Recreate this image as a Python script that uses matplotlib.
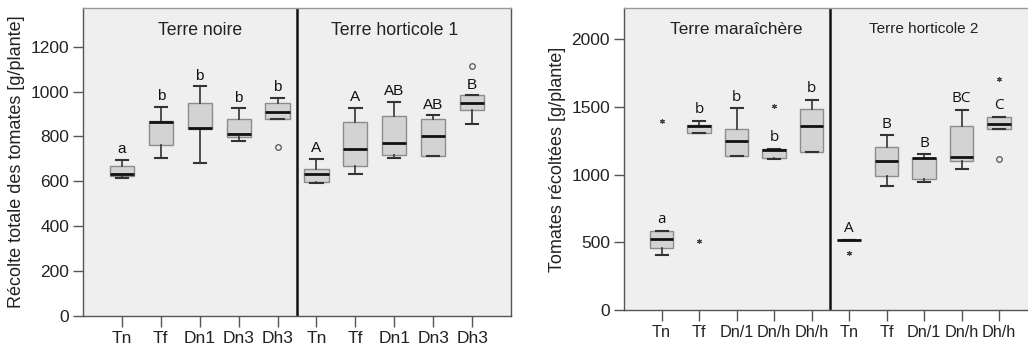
import matplotlib
matplotlib.use("Agg")
import matplotlib.pyplot as plt

plt.rcParams['font.family'] = ['Liberation Sans', 'DejaVu Sans']

# ---------------- data ----------------
left_ticks = ["Tn", "Tf", "Dn1", "Dn3", "Dh3", "Tn", "Tf", "Dn1", "Dn3", "Dh3"]
# whislo, q1, med, q3, whishi
left_whislo = [613, 703, 680, 778, 876, 593, 634, 703, 714, 856]
left_q1     = [625, 763, 831, 796, 876, 598, 669, 715, 714, 917]
left_med    = [634, 862, 837, 809, 910, 634, 746, 770, 804, 950]
left_q3     = [669, 870, 947, 878, 951, 654, 862, 892, 876, 984]
left_whishi = [697, 932, 1023, 926, 972, 699, 927, 953, 894, 984]
left_letters = ["a", "b", "b", "b", "b", "A", "A", "AB", "AB", "B"]
left_circles = {5: [752], 10: [1112]}
left_stars = {}
left_groups = ["Terre noire", "Terre horticole 1"]

right_ticks = ["Tn", "Tf", "Dn/1", "Dn/h", "Dh/h", "Tn", "Tf", "Dn/1", "Dn/h", "Dh/h"]
right_whislo = [404, 1304, 1139, 1118, 1168, 517, 918, 947, 1043, 1338]
right_q1     = [455, 1304, 1139, 1122, 1168, 517, 991, 964, 1097, 1338]
right_med    = [526, 1358, 1251, 1178, 1358, 517, 1102, 1120, 1129, 1375]
right_q3     = [583, 1363, 1336, 1188, 1483, 517, 1203, 1125, 1360, 1424]
right_whishi = [583, 1395, 1488, 1188, 1550, 517, 1289, 1149, 1478, 1424]
right_letters = ["a", "b", "b", "b", "b", "A", "B", "B", "BC", "C"]
right_circles = {10: [1114]}
right_stars = {1: [1392], 2: [512], 4: [1506], 6: [418], 10: [1707]}
right_groups = ["Terre maraîchère", "Terre horticole 2"]

BG = "#efefef"
BOXFILL = "#d3d3d3"
BOXEDGE = "#8c8c8c"
SPINE = "#555555"

fig = plt.figure(figsize=(10.28, 3.47), dpi=100)
axL = fig.add_axes([83/1028, 31/347, 428/1028, 308/347])
axR = fig.add_axes([624/1028, 37/347, 404/1028, 302/347])


def draw(ax, ticks, wlo, q1, med, q3, whi, letters, circles, stars, groups,
         ylim, yticks, ylabel, xmax, label_off, title_sizes, letter_font,
         xtick_size):
    stats = []
    for i in range(len(ticks)):
        stats.append(dict(whislo=wlo[i], q1=q1[i], med=med[i], q3=q3[i],
                          whishi=whi[i], fliers=[]))
    pos = list(range(1, len(ticks) + 1))
    ax.bxp(stats, positions=pos, widths=0.62, patch_artist=True,
           showfliers=False, capwidths=0.32,
           boxprops=dict(facecolor=BOXFILL, edgecolor=BOXEDGE, linewidth=1.0),
           medianprops=dict(color="#111111", linewidth=2.0),
           whiskerprops=dict(color="#333333", linewidth=1.2),
           capprops=dict(color="#333333", linewidth=1.5))
    for p, vals in circles.items():
        ax.plot([p] * len(vals), vals, linestyle="none", marker="o",
                markersize=4, markerfacecolor="none", markeredgecolor="#555555",
                markeredgewidth=0.9)
    for p, vals in stars.items():
        ax.plot([p] * len(vals), vals, linestyle="none", marker=(6, 2, 0),
                markersize=3.5, markeredgewidth=0.8, color="#444444")
    for i, t in enumerate(letters):
        top = whi[i]
        ax.text(pos[i], top + label_off, t, ha="center", va="bottom",
                fontsize=11, color="#111111", family=letter_font)
    ax.set_facecolor(BG)
    ax.set_xlim(0, xmax)
    ax.set_ylim(*ylim)
    ax.set_yticks(yticks)
    ax.set_yticklabels([str(v) for v in yticks], fontsize=12.5, color="#222222")
    ax.set_xticks(pos)
    ax.set_xticklabels(ticks, fontsize=xtick_size, color="#222222")
    ax.tick_params(axis="both", direction="out", length=7, width=1,
                   color=SPINE, pad=3)
    ax.tick_params(axis="x", length=8)
    ax.set_ylabel(ylabel, fontsize=13, color="#222222", labelpad=4)
    for s in ax.spines.values():
        s.set_color(SPINE)
        s.set_linewidth(1.0)
    ax.spines["top"].set_color("#999999")
    ax.axvline(5.5, color="#111111", linewidth=1.8)
    ytop = ylim[1]
    ax.text(3.0, ytop * 0.955, groups[0], ha="center", va="top",
            fontsize=title_sizes[0], color="#222222")
    ax.text(8.0, ytop * 0.955, groups[1], ha="center", va="top",
            fontsize=title_sizes[1], color="#222222")


draw(axL, left_ticks, left_whislo, left_q1, left_med, left_q3, left_whishi,
     left_letters, left_circles, left_stars, left_groups,
     (0, 1372), [0, 200, 400, 600, 800, 1000, 1200],
     "Récolte totale des tomates [g/plante]", 11, 16, (12.7, 12.8),
     "Liberation Sans", 12.5)
draw(axR, right_ticks, right_whislo, right_q1, right_med, right_q3, right_whishi,
     right_letters, right_circles, right_stars, right_groups,
     (0, 2229), [0, 500, 1000, 1500, 2000],
     "Tomates récoltées [g/plante]", 10.77, 28, (12.5, 11), "Open Sans", 11.7)
axR.spines["right"].set_visible(False)

fig.savefig("out.png", dpi=100)
